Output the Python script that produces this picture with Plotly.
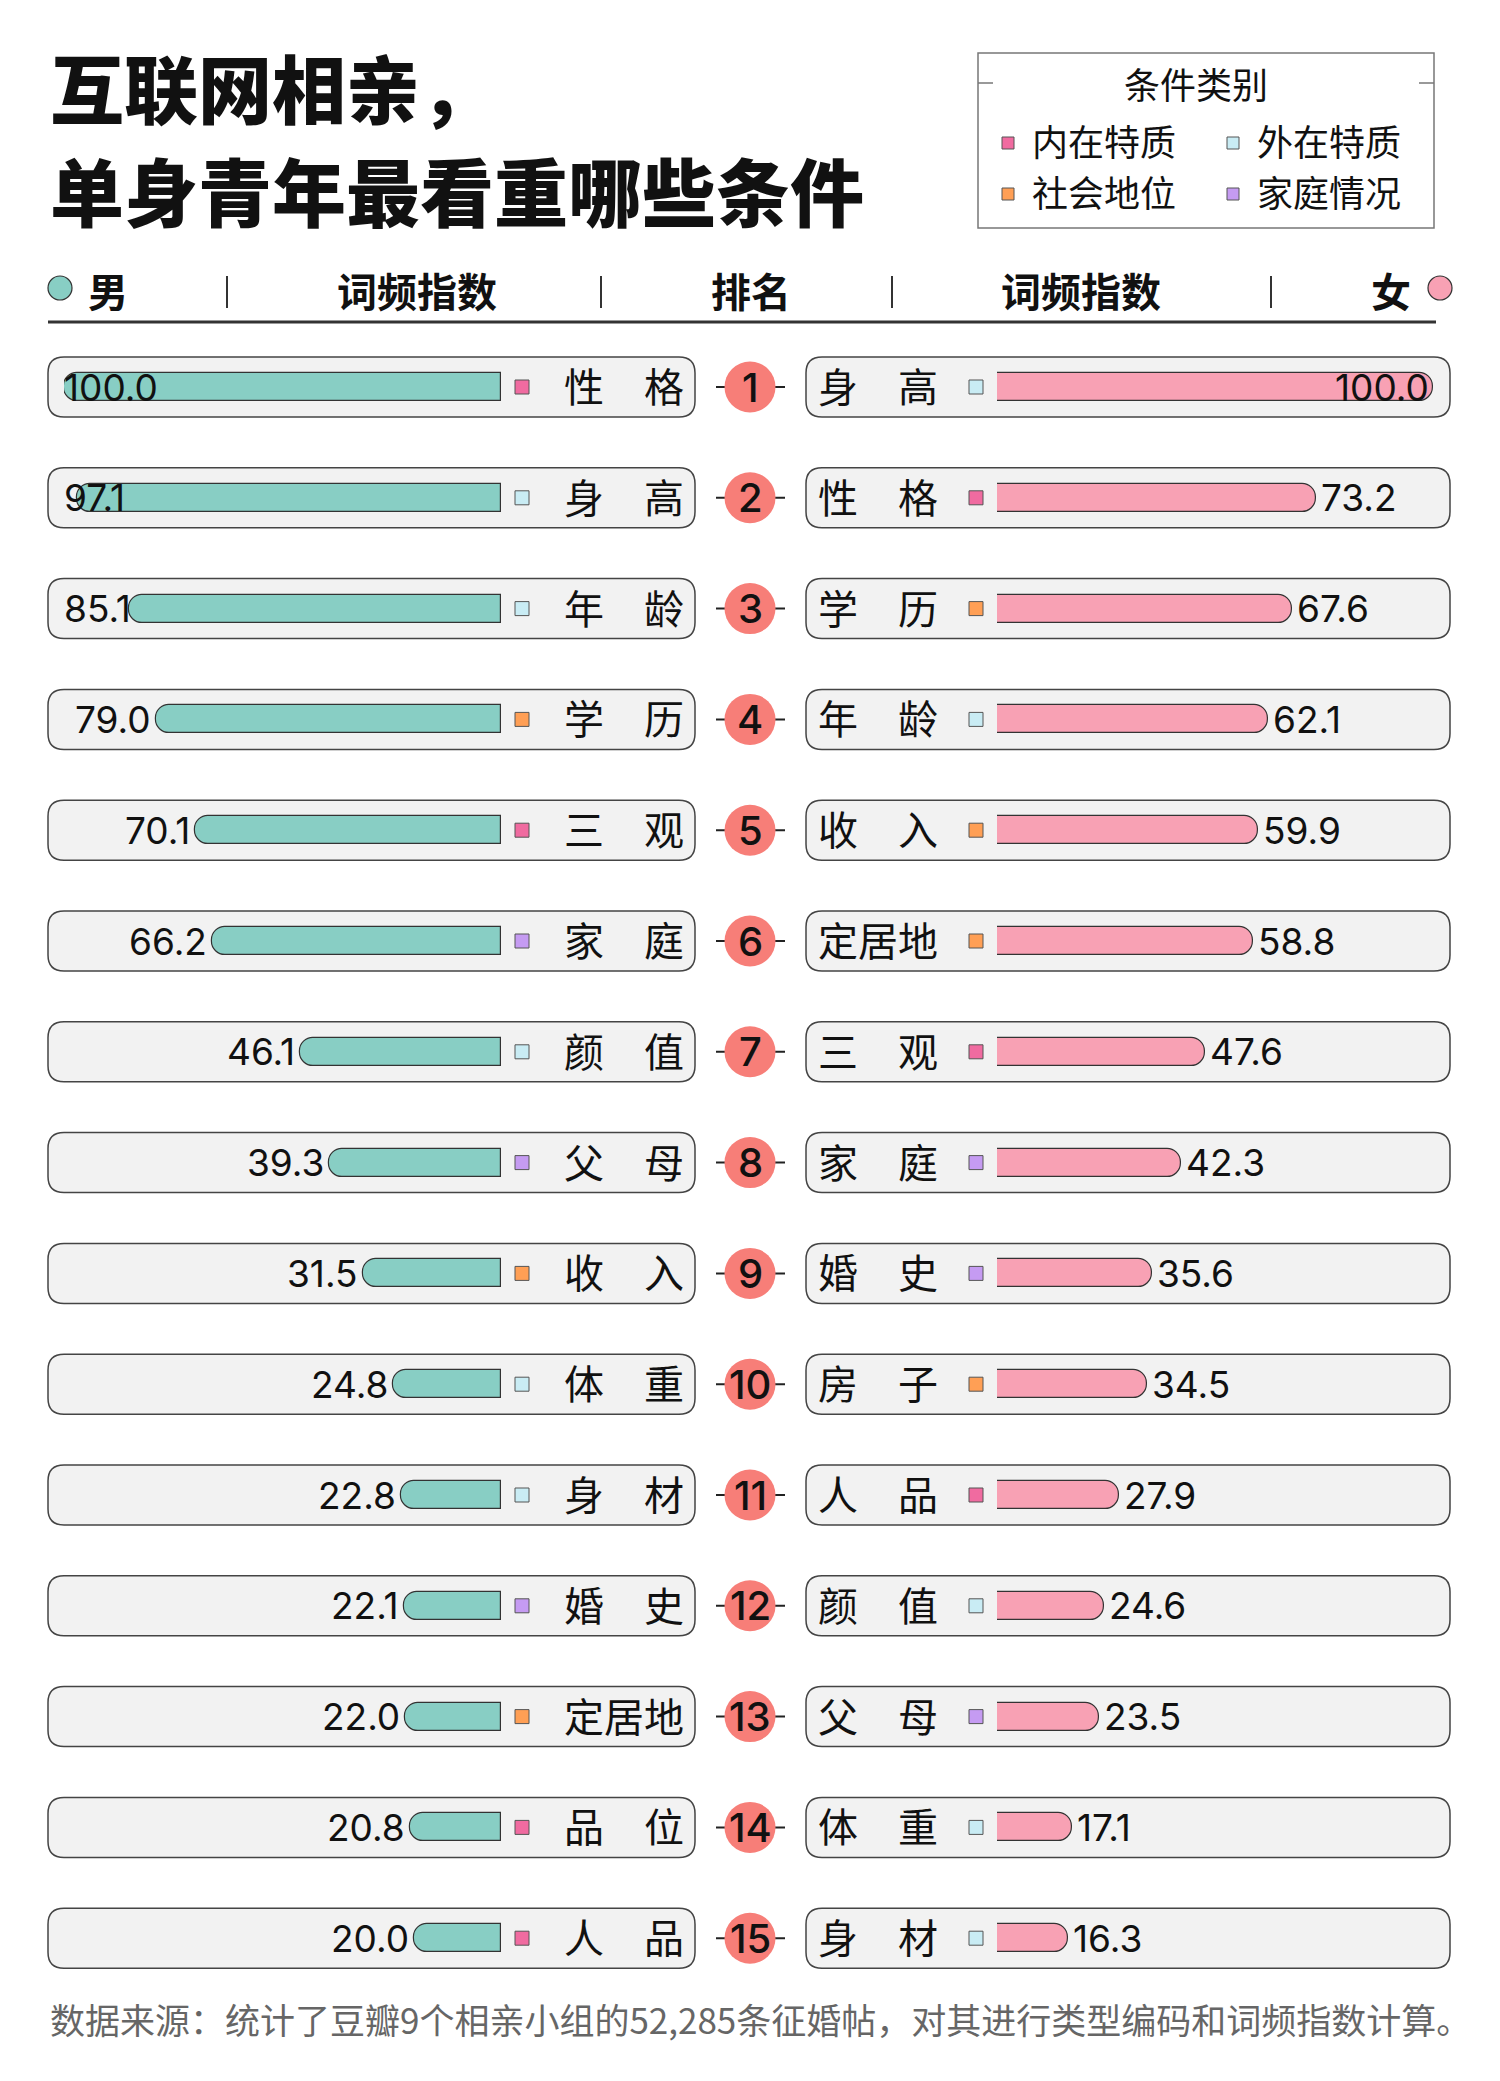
import plotly.graph_objects as go

# ---------------- data ----------------
ranks = list(range(1, 16))

male_terms = ["性格", "身高", "年龄", "学历", "三观", "家庭", "颜值", "父母",
              "收入", "体重", "身材", "婚史", "定居地", "品位", "人品"]
male_values = [100.0, 97.1, 85.1, 79.0, 70.1, 66.2, 46.1, 39.3,
               31.5, 24.8, 22.8, 22.1, 22.0, 20.8, 20.0]
male_types = ["内在特质", "外在特质", "外在特质", "社会地位", "内在特质", "家庭情况", "外在特质", "家庭情况",
              "社会地位", "外在特质", "外在特质", "家庭情况", "社会地位", "内在特质", "内在特质"]

female_terms = ["身高", "性格", "学历", "年龄", "收入", "定居地", "三观", "家庭",
                "婚史", "房子", "人品", "颜值", "父母", "体重", "身材"]
female_values = [100.0, 73.2, 67.6, 62.1, 59.9, 58.8, 47.6, 42.3,
                 35.6, 34.5, 27.9, 24.6, 23.5, 17.1, 16.3]
female_types = ["外在特质", "内在特质", "社会地位", "外在特质", "社会地位", "社会地位", "内在特质", "家庭情况",
                "家庭情况", "社会地位", "内在特质", "外在特质", "家庭情况", "外在特质", "外在特质"]

category_names = ["内在特质", "外在特质", "社会地位", "家庭情况"]
category_colors = ["#F06BA0", "#C9ECF4", "#FF9F55", "#C59BF2"]

title_lines = ["互联网相亲，", "单身青年最看重哪些条件"]
header_labels = ["男", "词频指数", "排名", "词频指数", "女"]
legend_title = "条件类别"
source_text = "数据来源：统计了豆瓣9个相亲小组的52,285条征婚帖，对其进行类型编码和词频指数计算。"

# ---------------- layout constants ----------------
W, H = 1500, 2081
ROW1, STEP = 387.0, 110.8
CJK = "Noto Sans CJK SC"
NUM = "Inter"
TEAL, PINK = "#88CEC4", "#F8A1B4"
BOX_FILL, BOX_LINE = "#F2F2F2", "#444444"
RANK_COL = "#F77E78"

L_BAR_END, L_BAR_FULL = 501, 64     # left bars: value 0 at 501px, 100 at 64px
R_BAR_START, R_BAR_FULL = 997, 1433
L_BOX = (48, 695)
R_BOX = (806, 1450)
BOX_H = 30   # half height px
RADIUS = 16
VAL_FS = 37

cat_color = dict(zip(category_names, category_colors))

r_top = 1 - ROW1 / STEP
r_bot = 1 + (H - ROW1) / STEP


def px(x):
    return x / W


def py(y):
    return 1 - y / H


def rounded_path(x0, x1, r):
    hy = BOX_H / STEP
    ry = RADIUS / STEP
    y0, y1 = r - hy, r + hy
    X0, X1, RX = px(x0), px(x1), RADIUS / W
    return (f"M {X0+RX},{y0} L {X1-RX},{y0} Q {X1},{y0} {X1},{y0+ry} "
            f"L {X1},{y1-ry} Q {X1},{y1} {X1-RX},{y1} L {X0+RX},{y1} "
            f"Q {X0},{y1} {X0},{y1-ry} L {X0},{y0+ry} Q {X0},{y0} {X0+RX},{y0} Z")


def fmt_term(t):
    return t[0] + "\u3000" + t[1] if len(t) == 2 else t


def est_width(s, fs):
    w = 0
    for ch in s:
        w += 0.27 if ch == "." else (0.40 if ch == "1" else 0.62)
    return w * fs


fig = go.Figure()
shapes = []
annotations = []

# row backgrounds and rank connector dashes (paper-x so they sit under every subplot)
for r in ranks:
    for (a, b) in (L_BOX, R_BOX):
        shapes.append(dict(type="path", xref="paper", yref="y", path=rounded_path(a, b, r),
                           fillcolor=BOX_FILL, line=dict(color=BOX_LINE, width=1.5), layer="below"))
    shapes.append(dict(type="line", xref="paper", yref="y", x0=px(716), x1=px(785), y0=r, y1=r,
                       line=dict(color="#222222", width=2), layer="below"))

bar_w = 28 / STEP
fig.add_trace(go.Bar(x=male_values, y=ranks, orientation="h", xaxis="x", yaxis="y",
                     width=bar_w, hoverinfo="skip", showlegend=False,
                     marker=dict(color=TEAL, line=dict(color="#333333", width=1.2), cornerradius="50%")))
fig.add_trace(go.Bar(x=female_values, y=ranks, orientation="h", xaxis="x2", yaxis="y",
                     width=bar_w, hoverinfo="skip", showlegend=False,
                     marker=dict(color=PINK, line=dict(color="#333333", width=1.2), cornerradius="50%")))

# category squares
fig.add_trace(go.Scatter(x=[522] * len(ranks), y=ranks, xaxis="x3", yaxis="y", mode="markers",
                         hoverinfo="skip", showlegend=False,
                         marker=dict(symbol="square", size=14, color=[cat_color[t] for t in male_types],
                                     line=dict(color="#555555", width=1))))
fig.add_trace(go.Scatter(x=[976] * len(ranks), y=ranks, xaxis="x3", yaxis="y", mode="markers",
                         hoverinfo="skip", showlegend=False,
                         marker=dict(symbol="square", size=14, color=[cat_color[t] for t in female_types],
                                     line=dict(color="#555555", width=1))))

# rank circles
fig.add_trace(go.Scatter(x=[750] * len(ranks), y=ranks, xaxis="x3", yaxis="y", mode="markers",
                         hoverinfo="skip", showlegend=False,
                         marker=dict(size=51, color=RANK_COL, line=dict(width=0))))
for r in ranks:
    annotations.append(dict(xref="x3", yref="y", x=750, y=r, text=str(r), showarrow=False,
                            xanchor="center", yanchor="middle",
                            font=dict(family=NUM, size=40, color="#111111", weight=500)))

# term labels
for r, t in zip(ranks, male_terms):
    annotations.append(dict(xref="x3", yref="y", x=562, y=r, text=fmt_term(t), showarrow=False,
                            xanchor="left", yanchor="middle", yshift=2,
                            font=dict(family=CJK, size=40, color="#111111")))
for r, t in zip(ranks, female_terms):
    annotations.append(dict(xref="x3", yref="y", x=816, y=r, text=fmt_term(t), showarrow=False,
                            xanchor="left", yanchor="middle", yshift=2,
                            font=dict(family=CJK, size=40, color="#111111")))

# value labels
l_scale = (L_BAR_END - L_BAR_FULL) / 100
r_scale = (R_BAR_FULL - R_BAR_START) / 100
for r, v in zip(ranks, male_values):
    s = f"{v:.1f}"
    tip = L_BAR_END - v * l_scale
    if tip - 5 - est_width(s, VAL_FS) < L_BOX[0] + 8:
        annotations.append(dict(xref="x", yref="y", x=100, y=r, text=s, showarrow=False,
                                xanchor="left", yanchor="middle", xshift=-2,
                                font=dict(family=NUM, size=VAL_FS, color="#111111")))
    else:
        annotations.append(dict(xref="x", yref="y", x=v, y=r, text=s, showarrow=False,
                                xanchor="right", yanchor="middle", xshift=-3,
                                font=dict(family=NUM, size=VAL_FS, color="#111111")))
for r, v in zip(ranks, female_values):
    s = f"{v:.1f}"
    tip = R_BAR_START + v * r_scale
    if tip + 5 + est_width(s, VAL_FS) > R_BOX[1] - 8:
        annotations.append(dict(xref="x2", yref="y", x=100, y=r, text=s, showarrow=False,
                                xanchor="right", yanchor="middle", xshift=-2,
                                font=dict(family=NUM, size=VAL_FS, color="#111111")))
    else:
        annotations.append(dict(xref="x2", yref="y", x=v, y=r, text=s, showarrow=False,
                                xanchor="left", yanchor="middle", xshift=3,
                                font=dict(family=NUM, size=VAL_FS, color="#111111")))

# ---------------- title ----------------
annotations.append(dict(xref="paper", yref="paper", x=px(48), y=py(141), text=title_lines[0], showarrow=False,
                        xanchor="left", yanchor="bottom",
                        font=dict(family=CJK, size=74, color="#111111", weight=900)))
annotations.append(dict(xref="paper", yref="paper", x=px(48), y=py(188), text=title_lines[1], showarrow=False,
                        xanchor="left", yanchor="middle",
                        font=dict(family=CJK, size=74, color="#111111", weight=900)))

# ---------------- header ----------------
hy = 290
header_x = [108, 417, 751, 1081, 1391]
for x, lab in zip(header_x, header_labels):
    annotations.append(dict(xref="paper", yref="paper", x=px(x), y=py(hy), text=lab, showarrow=False,
                            xanchor="center", yanchor="middle",
                            font=dict(family=CJK, size=40, color="#111111", weight="bold")))
for x in (227, 601, 892, 1271):
    shapes.append(dict(type="line", xref="paper", yref="paper", x0=px(x), x1=px(x), y0=py(276), y1=py(308),
                       line=dict(color="#333333", width=2)))
shapes.append(dict(type="line", xref="paper", yref="paper", x0=px(48), x1=px(1436), y0=py(322), y1=py(322),
                   line=dict(color="#333333", width=3)))
for cx, col in ((60, TEAL), (1440, PINK)):
    shapes.append(dict(type="circle", xref="paper", yref="paper", x0=px(cx - 12), x1=px(cx + 12),
                       y0=py(288 - 12), y1=py(288 + 12), fillcolor=col, line=dict(color="#333333", width=1.2)))

# ---------------- legend box ----------------
shapes.append(dict(type="rect", xref="paper", yref="paper", x0=px(978), x1=px(1434), y0=py(53), y1=py(228),
                   line=dict(color="#777777", width=1.5), fillcolor="rgba(0,0,0,0)"))
shapes.append(dict(type="line", xref="paper", yref="paper", x0=px(978), x1=px(993), y0=py(83), y1=py(83),
                   line=dict(color="#777777", width=1.5)))
shapes.append(dict(type="line", xref="paper", yref="paper", x0=px(1419), x1=px(1434), y0=py(83), y1=py(83),
                   line=dict(color="#777777", width=1.5)))
annotations.append(dict(xref="paper", yref="paper", x=px(1196), y=py(83), text=legend_title, showarrow=False,
                        xanchor="center", yanchor="middle", font=dict(family=CJK, size=36, color="#111111")))
leg_pos = [(1008, 140), (1233, 140), (1008, 191), (1233, 191)]
for (lx, ly), name, col in zip(leg_pos, category_names, category_colors):
    shapes.append(dict(type="rect", xref="paper", yref="paper", x0=px(lx - 6), x1=px(lx + 6),
                       y0=py(ly + 3 - 6), y1=py(ly + 3 + 6), fillcolor=col, line=dict(color="#555555", width=1)))
    annotations.append(dict(xref="paper", yref="paper", x=px(lx + 22), y=py(ly), text=name, showarrow=False,
                            xanchor="left", yanchor="middle", font=dict(family=CJK, size=36, color="#111111")))

# ---------------- footer ----------------
annotations.append(dict(xref="paper", yref="paper", x=px(48), y=py(2018), text=source_text, showarrow=False,
                        xanchor="left", yanchor="middle", font=dict(family=CJK, size=35, color="#666666")))

ax_common = dict(visible=False, showgrid=False, zeroline=False, fixedrange=True)
fig.update_layout(
    width=W, height=H, margin=dict(l=0, r=0, t=0, b=0),
    paper_bgcolor="white", plot_bgcolor="rgba(0,0,0,0)",
    showlegend=False, bargap=0,
    xaxis=dict(domain=[px(L_BAR_FULL), px(L_BAR_END)], range=[100, 0], anchor="y", **ax_common),
    xaxis2=dict(domain=[px(R_BAR_START), px(R_BAR_FULL)], range=[0, 100], anchor="y", **ax_common),
    xaxis3=dict(domain=[0, 1], range=[0, W], anchor="y", **ax_common),
    yaxis=dict(domain=[0, 1], range=[r_bot, r_top], anchor="x3", **ax_common),
    shapes=shapes, annotations=annotations,
)

fig.write_html("out.html", config={"displayModeBar": False},
               post_script="document.body.style.margin='0';")
